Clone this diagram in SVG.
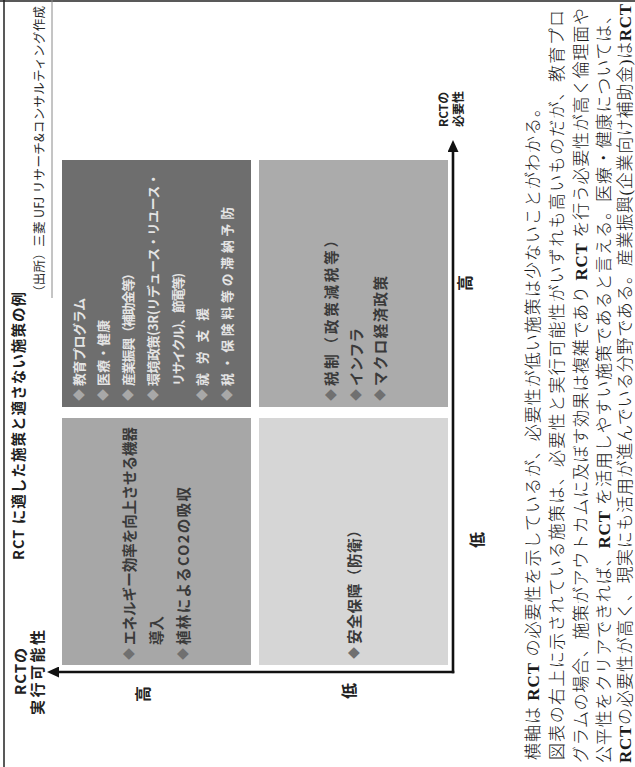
<svg xmlns="http://www.w3.org/2000/svg" width="635" height="767" viewBox="0 0 635 767">
<defs>
<style>
.jp{font-family:"Noto Sans CJK JP","Noto Sans",sans-serif;dominant-baseline:central}
.title{font-size:14.5px;font-weight:bold;fill:#1e1e1e}
.src{font-size:12.5px;fill:#2a2a2a}
.ax{font-size:15px;font-weight:bold;fill:#222}
.axs{font-size:12px;font-weight:bold;fill:#222}
.hl{font-size:16px;font-weight:bold;fill:#222}
.bx{font-size:14.5px;font-weight:bold;fill:#3a3a3a}
.bxd{font-size:12.8px;font-weight:bold;fill:#e4e4e4}
.bul{fill:#707070}
.buld{fill:#a8a8a8}
.body{font-family:"Liberation Serif","Noto Sans CJK JP",serif;font-size:17px;font-weight:300;fill:#1a1a1a;dominant-baseline:central}
.b{font-weight:bold}
.axis{stroke:#111;stroke-width:2.6;fill:none;stroke-linecap:square}
</style>
<marker id="ah" markerWidth="12" markerHeight="11" refX="0" refY="5.5" orient="auto" markerUnits="userSpaceOnUse">
<path d="M0,0 L12,5.5 L0,11 Z" fill="#111"/>
</marker>
</defs>
<rect x="0" y="0" width="635" height="767" fill="#ffffff"/>
<g transform="translate(0,767) rotate(-90)">
  <g id="frame">
    <line x1="0" y1="4" x2="767" y2="4" stroke="#222" stroke-width="1.5"/>
    <line x1="766" y1="0" x2="766" y2="635" stroke="#222" stroke-width="1.5"/>
    <line x1="469" y1="52" x2="767" y2="52" stroke="#8a8a8a" stroke-width="1"/>
  </g>
  <g id="title">
    <text class="jp title" x="207" y="17" textLength="268" lengthAdjust="spacing">RCT に適した施策と適さない施策の例</text>
  </g>
  <g id="source">
    <text class="jp src" x="469" y="38" textLength="292" lengthAdjust="spacing">（出所）三菱 UFJ リサーチ&amp;コンサルティング作成</text>
  </g>

  <g id="quad-high-low">
    <rect x="102" y="62" width="247" height="189" fill="#a7a7a7"/>
    <text class="jp bul" x="107" y="128" font-size="12">◆</text>
    <text class="jp bx" x="122" y="128" textLength="218" lengthAdjust="spacing">エネルギー効率を向上させる機器</text>
    <text class="jp bx" x="122" y="155">導入</text>
    <text class="jp bul" x="107" y="182" font-size="12">◆</text>
    <text class="jp bx" x="122" y="182" textLength="158" lengthAdjust="spacing">植林によるCO2の吸収</text>
  </g>

  <g id="quad-high-high">
    <rect x="360" y="62" width="247" height="189" fill="#6e6e6e"/>
    <text class="jp buld" x="366" y="78" font-size="12">◆</text>
    <text class="jp bxd" x="381" y="78" textLength="88" lengthAdjust="spacing">教育プログラム</text>
    <text class="jp buld" x="366" y="102" font-size="12">◆</text>
    <text class="jp bxd" x="381" y="102" textLength="66" lengthAdjust="spacing">医療・健康</text>
    <text class="jp buld" x="366" y="127" font-size="12">◆</text>
    <text class="jp bxd" x="381" y="127" textLength="119" lengthAdjust="spacing">産業振興（補助金等）</text>
    <text class="jp buld" x="366" y="152" font-size="12">◆</text>
    <text class="jp bxd" x="381" y="152" textLength="213" lengthAdjust="spacing">環境政策(3R(リデュース・リユース・</text>
    <text class="jp bxd" x="381" y="177" textLength="113" lengthAdjust="spacing">リサイクル)、節電等)</text>
    <text class="jp buld" x="366" y="201" font-size="12">◆</text>
    <text class="jp bxd" x="381" y="201" textLength="78" lengthAdjust="spacing">就労支援</text>
    <text class="jp buld" x="366" y="226" font-size="12">◆</text>
    <text class="jp bxd" x="381" y="226" textLength="179" lengthAdjust="spacing">税・保険料等の滞納予防</text>
  </g>

  <g id="quad-low-low">
    <rect x="102" y="259" width="247" height="189" fill="#d6d6d6"/>
    <text class="jp bul" x="108" y="353" font-size="12">◆</text>
    <text class="jp bx" x="123" y="353" textLength="121" lengthAdjust="spacing">安全保障（防衛）</text>
  </g>

  <g id="quad-low-high">
    <rect x="360" y="259" width="247" height="189" fill="#ababab"/>
    <text class="jp bul" x="366" y="330" font-size="12">◆</text>
    <text class="jp bx" x="381" y="330" textLength="153" lengthAdjust="spacing">税制（政策減税等）</text>
    <text class="jp bul" x="366" y="355" font-size="12">◆</text>
    <text class="jp bx" x="381" y="355" textLength="58" lengthAdjust="spacing">インフラ</text>
    <text class="jp bul" x="366" y="379" font-size="12">◆</text>
    <text class="jp bx" x="381" y="379" textLength="110" lengthAdjust="spacing">マクロ経済政策</text>
  </g>

  <g id="connectors">
    <path class="axis" d="M95,453 L95,59" marker-end="url(#ah)"/>
    <path class="axis" d="M95,453 L615,453" marker-end="url(#ah)"/>
  </g>

  <g id="axis-feasibility">
    <text class="jp ax" x="72" y="19" textLength="47" lengthAdjust="spacing">RCTの</text>
    <text class="jp ax" x="52" y="36" textLength="85" lengthAdjust="spacing">実行可能性</text>
    <text class="jp hl" x="73" y="142" text-anchor="middle">高</text>
    <text class="jp hl" x="76" y="348" text-anchor="middle">低</text>
  </g>

  <g id="axis-necessity">
    <text class="jp axs" x="640" y="442">RCTの</text>
    <text class="jp axs" x="640" y="457">必要性</text>
    <text class="jp hl" x="484" y="464" text-anchor="middle">高</text>
    <text class="jp hl" x="227" y="476" text-anchor="middle">低</text>
  </g>

  <g id="body">
    <text class="body" x="7" y="533" textLength="660" lengthAdjust="spacing">横軸は <tspan class="b">RCT</tspan> の必要性を示しているが、必要性が低い施策は少ないことがわかる。</text>
    <text class="body" x="7" y="557" textLength="750" lengthAdjust="spacing">図表の右上に示されている施策は、必要性と実行可能性がいずれも高いものだが、教育プロ</text>
    <text class="body" x="4" y="581" textLength="755" lengthAdjust="spacing">グラムの場合、施策がアウトカムに及ぼす効果は複雑であり <tspan class="b">RCT</tspan> を行う必要性が高く倫理面や</text>
    <text class="body" x="4" y="604" textLength="756" lengthAdjust="spacing">公平性をクリアできれば、<tspan class="b">RCT</tspan> を活用しやすい施策であると言える。医療・健康については、</text>
    <text class="body" x="4" y="625" textLength="759" lengthAdjust="spacing"><tspan class="b">RCT</tspan>の必要性が高く、現実にも活用が進んでいる分野である。産業振興(企業向け補助金)は<tspan class="b">RCT</tspan></text>
  </g>
</g>
</svg>
